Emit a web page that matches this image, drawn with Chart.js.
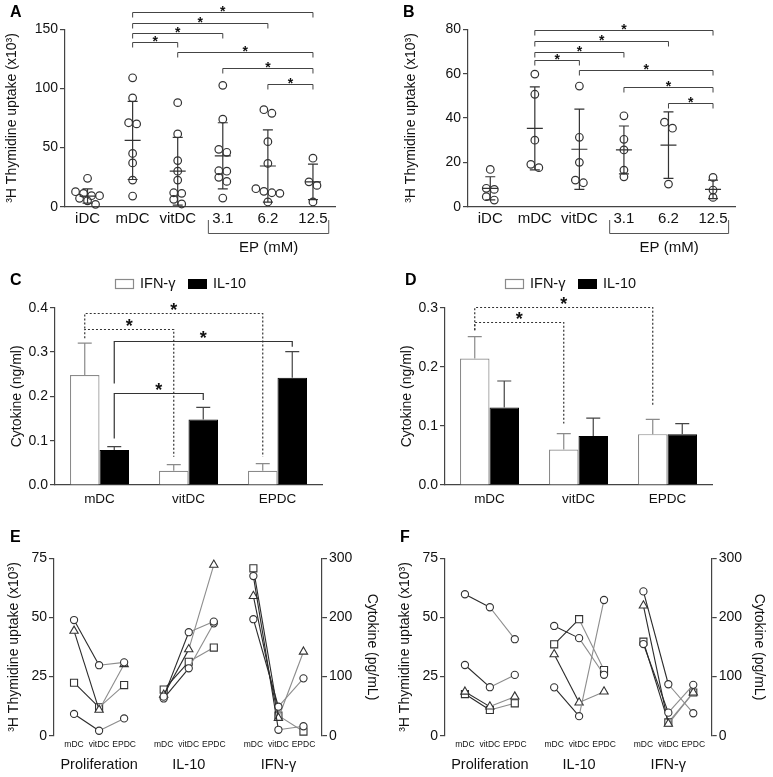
<!DOCTYPE html>
<html>
<head>
<meta charset="utf-8">
<script src="https://cdn.jsdelivr.net/npm/chart.js@4.4.1/dist/chart.umd.min.js"></script>
<style>
  body { margin: 0; background: #fff; }
  #wrap { position: relative; width: 773px; height: 777px; overflow: hidden; }
  canvas { position: absolute; }
</style>
</head>
<body>
<div id="wrap">
  <canvas id="cA" width="390" height="260" style="left:0;top:0"></canvas>
  <canvas id="cB" width="383" height="260" style="left:390px;top:0"></canvas>
  <canvas id="cC" width="390" height="250" style="left:0;top:260px"></canvas>
  <canvas id="cD" width="383" height="250" style="left:390px;top:260px"></canvas>
  <canvas id="cE" width="390" height="267" style="left:0;top:510px"></canvas>
  <canvas id="cF" width="383" height="267" style="left:390px;top:510px"></canvas>
</div>
<script>
// ---------- data ----------
const prolifCats = ['iDC', 'mDC', 'vitDC', '3.1', '6.2', '12.5'];

// panel A: 3H thymidine uptake (x10^3), one array per group
const prolifA = [
  [24, 12.7, 11.3, 9.3, 9.3, 7.1, 5, 2],
  [109, 92, 71, 70, 45, 37, 22.5, 9],
  [88, 61.5, 39, 30, 22.5, 11.8, 11.3, 6.2, 2.3],
  [102.6, 74, 48.5, 46, 30.4, 30, 24.8, 21.4, 7.3],
  [82, 79, 55, 36.6, 15.2, 13, 11.8, 11.3, 4],
  [41, 21, 18, 4]
];
const meanA = [9, 56, 30, 43, 34.4, 21];
const sdA = [6, 33, 28.6, 28, 30.6, 15];
// [from group, to group, level]
const sigA = [[1, 5, 165], [1, 4, 155.6], [1, 3, 147], [1, 2, 139.5], [2, 5, 130.5], [3, 5, 117], [4, 5, 103.7]];

// panel B
const prolifB = [
  [16.8, 8.3, 7.8, 4.5, 3],
  [59.8, 50.7, 30, 19.1, 17.6],
  [54.4, 31.3, 20, 12, 10.8],
  [41, 30.4, 25.6, 16.5, 13.5],
  [38.1, 35.4, 10.2],
  [13.2, 7.5, 4.2]
];
const meanB = [8.3, 35.3, 25.9, 25.6, 27.8, 7.8];
const sdB = [5.2, 18.7, 18.1, 10.8, 15, 4.2];
const sigB = [[1, 5, 79.7], [1, 4, 74.7], [1, 3, 69.9], [1, 2, 66.2], [2, 5, 61.7], [3, 5, 53.8], [4, 5, 46.9]];

// panels C / D: cytokine (ng/ml), mean and upper error
const cytoCats = ['mDC', 'vitDC', 'EPDC'];
const cIFN = [0.248, 0.032, 0.032];
const cIFNerr = [0.072, 0.014, 0.016];
const cIL10 = [0.079, 0.148, 0.242];
const cIL10err = [0.0075, 0.027, 0.059];
const dIFN = [0.214, 0.060, 0.086];
const dIFNerr = [0.037, 0.027, 0.025];
const dIL10 = [0.131, 0.083, 0.086];
const dIL10err = [0.045, 0.030, 0.018];
// {from:[dataset, bar], to:[dataset, bar], y: level, y1/y2: leg ends, dash}
const sigC = [
  { from: [0, 0], to: [0, 2], y: 0.387, y1: 0.353, y2: 0.064, dash: true },
  { from: [0, 0], to: [0, 1], y: 0.351, y1: 0.331, y2: 0.064, dash: true },
  { from: [1, 0], to: [1, 2], y: 0.326, y1: 0.229, y2: 0.312, dash: false },
  { from: [1, 0], to: [1, 1], y: 0.207, y1: 0.105, y2: 0.192, dash: false }
];
const sigD = [
  { from: [0, 0], to: [0, 2], y: 0.302, y1: 0.262, y2: 0.1325, dash: true },
  { from: [0, 0], to: [0, 1], y: 0.276, y1: 0.262, y2: 0.104, dash: true }
];

// panels E / F: per donor [mDC, vitDC, EPDC]
const stepLabels = ['mDC', 'vitDC', 'EPDC'];
const groupNames = ['Proliferation', 'IL-10', 'IFN-γ'];
const donorMarkers = ['circle', 'circle', 'triangle', 'rect'];
const eProlif = [[48.9, 29.8, 31.0], [9.2, 2.1, 7.3], [44.3, 10.9, 30.2], [22.4, 12, 21.4]];
const eIL10 = [[66, 175, 193], [63, 114, 190], [69, 146, 289], [78, 125, 149]];
const eIFN = [[270, 10, 16], [197, 49, 97], [236, 30, 142], [283, 34, 7]];
const fProlif = [[59.8, 54.3, 40.8], [29.9, 20.5, 25.7], [18.6, 12.3, 16.5], [17.6, 10.9, 13.7]];
const fIL10 = [[185.6, 165, 103], [81.8, 33, 229.5], [137.6, 56, 74.5], [154.5, 197, 111]];
const fIFN = [[244, 87, 38], [155, 39, 86], [220, 20, 73], [159, 22.5, 73]];

// ---------- look ----------
const FONT = "'Liberation Sans', Arial, Helvetica, sans-serif";
const AX = '#444';
const TXT = '#111';
Chart.defaults.font.family = FONT;
Chart.defaults.color = TXT;
Chart.defaults.animation = false;
Chart.defaults.responsive = false;
Chart.defaults.plugins.legend.display = false;
Chart.defaults.plugins.tooltip.enabled = false;

const THY_TITLE = '³H Thymidine uptake (x10³)';

function yAxis(o) {
  return {
    type: 'linear',
    position: o.position || 'left',
    min: o.min, max: o.max,
    ticks: { stepSize: o.step, font: { size: o.tickSize || 14 }, padding: 2, callback: o.fmt, color: TXT },
    grid: { display: true, drawOnChartArea: false, drawTicks: true, tickLength: 5, color: AX, lineWidth: 1.2 },
    border: { display: true, color: AX, width: 1.2 },
    title: { display: !!o.title, text: o.title, font: { size: 14 }, padding: { top: 4, bottom: 4 }, color: TXT },
    afterFit: s => { s.width = o.width; }
  };
}

function letterPlugin(txt, x, y) {
  return {
    id: 'letter',
    afterDraw(chart) {
      const ctx = chart.ctx;
      ctx.save();
      ctx.font = `bold 16px ${FONT}`;
      ctx.fillStyle = '#000';
      ctx.textBaseline = 'alphabetic';
      ctx.fillText(txt, x, y);
      ctx.restore();
    }
  };
}

// simple row based swarm, offsets in category units
function swarm(vals, pxPerUnit, pxPerCat, gap) {
  const order = vals.map((v, i) => i).sort((a, b) => vals[b] - vals[a]);
  const offs = new Array(vals.length).fill(0);
  let row = [];
  const flush = () => {
    row.forEach((idx, k) => { offs[idx] = (k - (row.length - 1) / 2) * gap / pxPerCat; });
    row = [];
  };
  order.forEach(idx => {
    if (row.length && ((vals[row[0]] - vals[idx]) * pxPerUnit > 6.5 || row.length >= 4)) flush();
    row.push(idx);
  });
  flush();
  return offs;
}

function dotPlot(id, vals, means, sds, sig, yMax, yStep, padLeft, yWidth, padRight, letter) {
  const canvas = document.getElementById(id);
  const plotH = 177.4;
  const pxPerUnit = plotH / yMax;
  const pxPerCat = (canvas.width - padLeft - yWidth - padRight) / vals.length;
  const points = vals.flatMap((g, i) => {
    const off = swarm(g, pxPerUnit, pxPerCat, 8);
    return g.map((v, k) => ({ x: i + off[k], y: v }));
  });

  const meanSd = {
    id: 'meanSd',
    afterDatasetsDraw(chart) {
      const { ctx, scales: { x, y } } = chart;
      ctx.save();
      ctx.strokeStyle = '#333';
      ctx.lineWidth = 1.2;
      means.forEach((m, i) => {
        const cx = x.getPixelForValue(i);
        const pm = y.getPixelForValue(m);
        const pt = y.getPixelForValue(m + sds[i]);
        const pb = y.getPixelForValue(Math.max(0, m - sds[i]));
        ctx.beginPath();
        ctx.moveTo(cx - 8, pm); ctx.lineTo(cx + 8, pm);
        ctx.moveTo(cx, pt); ctx.lineTo(cx, pb);
        ctx.moveTo(cx - 5, pt); ctx.lineTo(cx + 5, pt);
        ctx.moveTo(cx - 5, pb); ctx.lineTo(cx + 5, pb);
        ctx.stroke();
      });
      ctx.restore();
    }
  };

  const sigBars = {
    id: 'sigBars',
    afterDraw(chart) {
      const { ctx, scales: { x, y } } = chart;
      ctx.save();
      ctx.strokeStyle = AX;
      ctx.lineWidth = 1;
      ctx.fillStyle = TXT;
      ctx.font = `bold 14px ${FONT}`;
      ctx.textAlign = 'center';
      ctx.textBaseline = 'alphabetic';
      sig.forEach(([a, b, v]) => {
        const x1 = x.getPixelForValue(a), x2 = x.getPixelForValue(b);
        const py = Math.round(y.getPixelForValue(v)) + 0.5;
        ctx.beginPath();
        ctx.moveTo(x1, py + 5); ctx.lineTo(x1, py); ctx.lineTo(x2, py); ctx.lineTo(x2, py + 5);
        ctx.stroke();
        ctx.fillText('*', (x1 + x2) / 2, py + 3);
      });
      // EP (mM) bracket under the last three groups
      const e1 = x.getPixelForValue(3 - 0.32), e2 = x.getPixelForValue(5 + 0.35);
      ctx.strokeStyle = '#555';
      ctx.beginPath();
      ctx.moveTo(e1, 220); ctx.lineTo(e1, 233.5); ctx.lineTo(e2, 233.5); ctx.lineTo(e2, 220);
      ctx.stroke();
      ctx.font = `15px ${FONT}`;
      ctx.textBaseline = 'middle';
      ctx.fillText('EP (mM)', (e1 + e2) / 2, 248);
      ctx.restore();
    }
  };

  return new Chart(canvas, {
    type: 'scatter',
    data: {
      datasets: [{
        data: points,
        pointStyle: 'circle',
        pointRadius: 3.8,
        pointBorderWidth: 1.2,
        pointBorderColor: '#333',
        pointBackgroundColor: 'rgba(255,255,255,0)',
        clip: false
      }]
    },
    options: {
      layout: { padding: { left: padLeft, top: 29.3, right: padRight, bottom: 0 } },
      scales: {
        x: {
          type: 'linear', min: -0.5, max: vals.length - 0.5,
          afterBuildTicks: s => { s.ticks = prolifCats.map((c, i) => ({ value: i })); },
          ticks: { callback: (v, i) => prolifCats[i], font: { size: 15 }, padding: 3, autoSkip: false, maxRotation: 0, color: TXT },
          grid: { display: false, drawTicks: false },
          border: { display: true, color: AX, width: 1.2 },
          afterFit: s => { s.height = 260 - 29.3 - plotH; }
        },
        y: yAxis({ min: 0, max: yMax, step: yStep, title: THY_TITLE, width: yWidth })
      }
    },
    plugins: [meanSd, sigBars, letterPlugin(letter, padLeft > 4 ? 13 : 10, 17)]
  });
}

function barPlot(id, ifn, ifnErr, il10, il10Err, sig, yMax, padRight, letter) {
  const canvas = document.getElementById(id);
  const errs = [ifnErr, il10Err];

  const errBars = {
    id: 'errBars',
    afterDatasetsDraw(chart) {
      const { ctx, scales: { y } } = chart;
      ctx.save();
      ctx.lineWidth = 1.2;
      chart.data.datasets.forEach((ds, d) => {
        ctx.strokeStyle = d === 0 ? '#8a8a8a' : '#444';
        chart.getDatasetMeta(d).data.forEach((bar, i) => {
          const top = y.getPixelForValue(ds.data[i] + errs[d][i]);
          ctx.beginPath();
          ctx.moveTo(bar.x, bar.y); ctx.lineTo(bar.x, top);
          ctx.moveTo(bar.x - 7, top); ctx.lineTo(bar.x + 7, top);
          ctx.stroke();
        });
      });
      ctx.restore();
    }
  };

  const sigBars = {
    id: 'sigBars',
    afterDraw(chart) {
      const { ctx, scales: { y } } = chart;
      ctx.save();
      ctx.strokeStyle = '#333';
      ctx.lineWidth = 1.2;
      ctx.fillStyle = TXT;
      ctx.font = `bold 18px ${FONT}`;
      ctx.textAlign = 'center';
      ctx.textBaseline = 'alphabetic';
      sig.forEach(b => {
        const x1 = chart.getDatasetMeta(b.from[0]).data[b.from[1]].x;
        const x2 = chart.getDatasetMeta(b.to[0]).data[b.to[1]].x;
        const py = Math.round(y.getPixelForValue(b.y)) + 0.5;
        ctx.setLineDash(b.dash ? [2, 2] : []);
        ctx.beginPath();
        ctx.moveTo(x1, y.getPixelForValue(b.y1)); ctx.lineTo(x1, py);
        ctx.lineTo(x2, py); ctx.lineTo(x2, y.getPixelForValue(b.y2));
        ctx.stroke();
        ctx.fillText('*', (x1 + x2) / 2, py + 2);
      });
      ctx.restore();
    }
  };

  const legendBox = {
    id: 'legendBox',
    afterDraw(chart) {
      const ctx = chart.ctx;
      ctx.save();
      ctx.fillStyle = '#fff';
      ctx.strokeStyle = '#8a8a8a';
      ctx.lineWidth = 1.2;
      ctx.fillRect(115.5, 19.5, 18, 9);
      ctx.strokeRect(115.5, 19.5, 18, 9);
      ctx.fillStyle = '#000';
      ctx.fillRect(188, 19, 19, 10);
      ctx.fillStyle = TXT;
      ctx.font = `14.5px ${FONT}`;
      ctx.textBaseline = 'middle';
      ctx.fillText('IFN-γ', 140, 24);
      ctx.fillText('IL-10', 213, 24);
      ctx.restore();
    }
  };

  return new Chart(canvas, {
    type: 'bar',
    data: {
      labels: cytoCats,
      datasets: [
        { label: 'IFN-γ', data: ifn, backgroundColor: '#fff', borderColor: '#8a8a8a', borderWidth: 1.2 },
        { label: 'IL-10', data: il10, backgroundColor: '#000', borderColor: '#000', borderWidth: 1 }
      ]
    },
    options: {
      layout: { padding: { left: 5, top: 47.7, right: padRight, bottom: 0 } },
      datasets: { bar: { barPercentage: 1, categoryPercentage: 0.663 } },
      scales: {
        x: {
          ticks: { font: { size: 13.5 }, padding: 6, color: TXT },
          grid: { display: false, drawTicks: false },
          border: { display: true, color: AX, width: 1.2 },
          afterFit: s => { s.height = 25; }
        },
        y: yAxis({ min: 0, max: yMax, step: 0.1, title: 'Cytokine (ng/ml)', width: 50, fmt: v => v.toFixed(1) })
      }
    },
    plugins: [errBars, sigBars, legendBox, letterPlugin(letter, id === 'cC' ? 10 : 15, 25)]
  });
}

function pairPlot(id, prolif, il10, ifn, padLeft, rightWidth, padRight, letter) {
  const canvas = document.getElementById(id);
  const xPos = (g, k) => 0.8 + g * 3.58 + k;
  const ticksAt = [0, 1, 2].flatMap(g => [0, 1, 2].map(k => xPos(g, k)));
  const markerSize = { circle: 3.6, triangle: 4.8, rect: 5 };

  const datasets = [];
  [prolif, il10, ifn].forEach((grp, g) => {
    grp.forEach((vals, d) => {
      datasets.push({
        type: 'line',
        data: vals.map((v, k) => ({ x: xPos(g, k), y: v })),
        yAxisID: g === 0 ? 'y' : 'y2',
        borderWidth: 1.1,
        borderColor: '#666',
        segment: { borderColor: c => c.p0DataIndex === 0 ? '#2a2a2a' : '#8c8c8c' },
        pointStyle: donorMarkers[d],
        pointRadius: markerSize[donorMarkers[d]],
        pointBorderWidth: 1.1,
        pointBorderColor: '#333',
        pointBackgroundColor: '#fff',
        clip: false
      });
    });
  });

  const groupText = {
    id: 'groupText',
    afterDraw(chart) {
      const { ctx, scales: { x } } = chart;
      ctx.save();
      ctx.font = `14.5px ${FONT}`;
      ctx.fillStyle = TXT;
      ctx.textAlign = 'center';
      ctx.textBaseline = 'middle';
      groupNames.forEach((n, g) => ctx.fillText(n, x.getPixelForValue(xPos(g, 1)), 255));
      ctx.restore();
    }
  };

  const plotH = 177.4;
  return new Chart(canvas, {
    type: 'line',
    data: { datasets },
    options: {
      layout: { padding: { left: padLeft, top: 48.3, right: padRight, bottom: 0 } },
      scales: {
        x: {
          type: 'linear', min: 0, max: 10.7,
          afterBuildTicks: s => { s.ticks = ticksAt.map(v => ({ value: v })); },
          ticks: { callback: (v, i) => stepLabels[i % 3], font: { size: 8.5 }, padding: 4, autoSkip: false, maxRotation: 0, color: TXT },
          grid: { display: false, drawTicks: false },
          border: { display: false },
          afterFit: s => { s.height = 267 - 48.3 - plotH; }
        },
        y: yAxis({ min: 0, max: 75, step: 25, title: THY_TITLE, width: 52 }),
        y2: yAxis({ position: 'right', min: 0, max: 300, step: 100, title: 'Cytokine (pg/mL)', width: rightWidth })
      }
    },
    plugins: [groupText, letterPlugin(letter, 10, 32)]
  });
}

dotPlot('cA', prolifA, meanA, sdA, sigA, 150, 50, 0, 65, 54.5, 'A');
dotPlot('cB', prolifB, meanB, sdB, sigB, 80, 20, 9, 69, 37.7, 'B');
barPlot('cC', cIFN, cIFNerr, cIL10, cIL10err, sigC, 0.4, 68, 'C');
barPlot('cD', dIFN, dIFNerr, dIL10, dIL10err, sigD, 0.3, 61, 'D');
pairPlot('cE', eProlif, eIL10, eIFN, 2, 62, 6, 'E');
pairPlot('cF', fProlif, fIL10, fIFN, 3, 60, 1.3, 'F');
</script>
</body>
</html>
